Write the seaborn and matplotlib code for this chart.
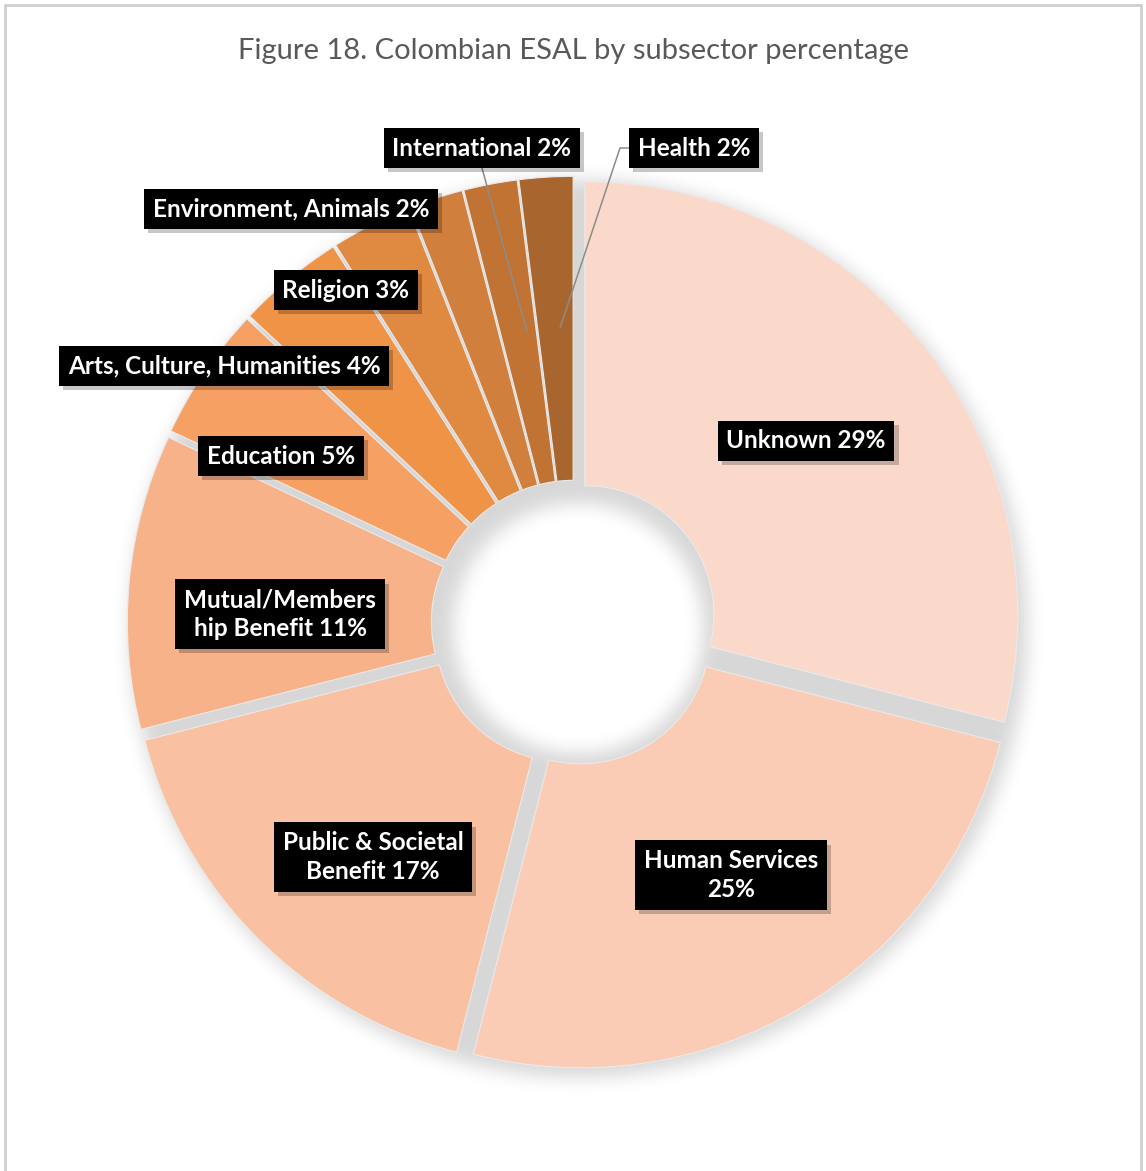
import numpy as np
import matplotlib
matplotlib.use("Agg")
import matplotlib.pyplot as plt
import matplotlib.patheffects as pe
from matplotlib.patches import Rectangle
import seaborn as sns

# ---- data ----
subsectors = ["Unknown", "Human Services", "Public & Societal Benefit",
              "Mutual/Membership Benefit", "Education",
              "Arts, Culture, Humanities", "Religion",
              "Environment, Animals", "International", "Health"]
shares = [29, 25, 17, 11, 5, 4, 3, 2, 2, 2]
label_texts = ["Unknown 29%", "Human Services\n25%", "Public & Societal\nBenefit 17%",
               "Mutual/Members\nhip Benefit 11%", "Education 5%",
               "Arts, Culture, Humanities 4%", "Religion 3%",
               "Environment, Animals 2%", "International 2%", "Health 2%"]
slice_colors = ["#FAD9CB", "#FBCCB5", "#F9C0A1", "#F8B289", "#F6A064",
                "#EF9347", "#E08941", "#D17F3C", "#C17334", "#A8652D"]
title = "Figure 18. Colombian ESAL by subsector percentage"

# ---- layout (pixel units, y measured downward from top) ----
W, H = 1146, 1171
cx, cy_top = 574, 623
R_out, R_in = 433, 129
offset = 13.7
label_pos = [(806, 441), (731, 875), (373, 857), (280, 614), (281, 456),
             (224, 366), (346, 290), (291, 209), (482, 148), (694, 148)]

sns.set_theme(style="white")
plt.rcParams["font.family"] = ["Lato", "DejaVu Sans"]
palette = sns.color_palette(slice_colors)

fig = plt.figure(figsize=(W / 100, H / 100), dpi=100)
fig.patch.set_facecolor("white")
ax = fig.add_axes([0, 0, 1, 1])
cy = H - cy_top

# soft drop shadow under the ring
yy, xx = np.mgrid[0:H, 0:W].astype(float)
sx, sy = cx + 4, cy_top + 5
rr = np.hypot(xx - sx, yy - sy)
mask = ((rr <= R_out + offset + 2) & (rr >= R_in - 4)).astype(float)


def blur(a, sigma):
    k = np.arange(-3 * sigma, 3 * sigma + 1)
    g = np.exp(-k ** 2 / (2 * sigma ** 2))
    g /= g.sum()
    a = np.apply_along_axis(lambda v: np.convolve(v, g, mode="same"), 1, a)
    a = np.apply_along_axis(lambda v: np.convolve(v, g, mode="same"), 0, a)
    return a


mask = blur(mask, 9)
shadow = np.zeros((H, W, 4))
shadow[..., 3] = mask * 0.16
ax.imshow(shadow, extent=(0, W, 0, H), origin="upper", zorder=0,
          interpolation="bilinear")

# explode is given in data units (pixels here)
wedges, _ = ax.pie(shares, colors=palette, startangle=90, counterclock=False,
                   radius=R_out, center=(cx, cy),
                   explode=[offset] * len(shares),
                   wedgeprops=dict(width=R_out - R_in, edgecolor="#EAEAEA",
                                   linewidth=0.8))
for w in wedges:
    w.set_zorder(2)

# leader lines for the two narrow slices
ax.plot([631, 620, 560], [H - 148, H - 148, H - 328], color="#8C8C8C", lw=1.1,
        zorder=3, solid_capstyle="butt")
ax.plot([482, 527], [H - 168, H - 332], color="#8C8C8C", lw=1.1, zorder=3)

# data labels
for txt, (lx, ly) in zip(label_texts, label_pos):
    t = ax.text(lx, H - ly, txt, ha="center", va="center", color="white",
                fontsize=17.5, fontweight="bold", linespacing=1.3, zorder=5,
                bbox=dict(boxstyle="square,pad=0.36", facecolor="black",
                          edgecolor="none"))
    t.get_bbox_patch().set_path_effects([
        pe.SimplePatchShadow(offset=(3, -3), shadow_rgbFace="black", alpha=0.22),
        pe.Normal()])

ax.text(574, H - 51, title, ha="center", va="center", color="#595959",
        fontsize=21, zorder=5)

# chart-area border
ax.add_patch(Rectangle((5, -20), W - 10, H - 5 + 20, fill=False,
                       edgecolor="#CFCFCF", lw=2, zorder=6))

ax.set_xlim(0, W)
ax.set_ylim(0, H)
ax.set_aspect("equal")
ax.axis("off")
fig.savefig("out.png", dpi=100, facecolor="white")
